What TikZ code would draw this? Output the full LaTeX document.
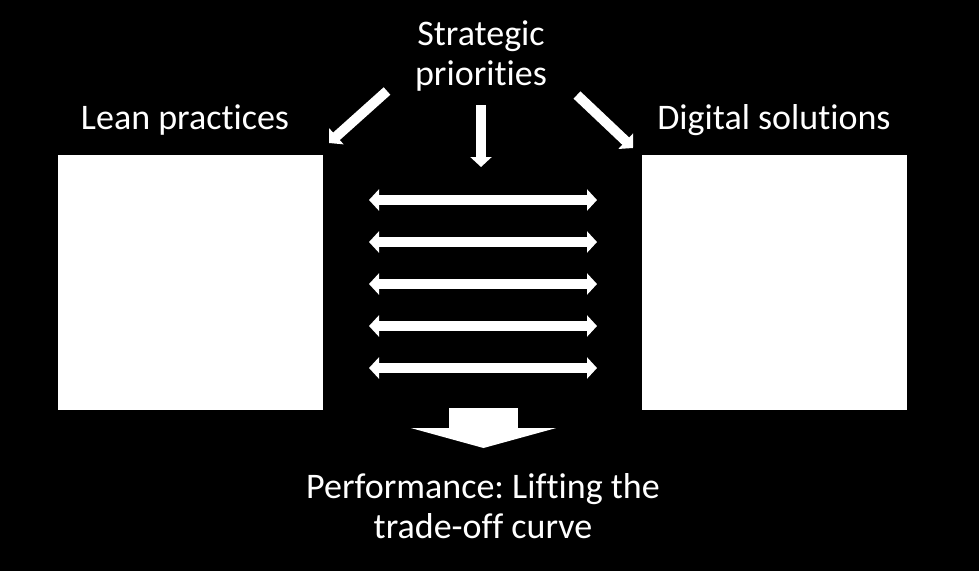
\documentclass[tikz,border=0pt]{standalone}
\usepackage{fontspec}
\setmainfont[RawFeature={-liga;-clig}]{Carlito}
\usetikzlibrary{arrows.meta}
\frenchspacing
\begin{document}
\begin{tikzpicture}[x=1pt,y=-1pt,
  box/.style={fill=white,draw=none,minimum width=265pt,minimum height=255pt,inner sep=0pt},
  lbl/.style={text=white,font=\fontsize{36}{40}\selectfont,align=center,inner sep=0pt},
  blk/.style={draw=white,line width=10pt,-{Triangle[width=21pt,length=10pt]}},
  dbl/.style={draw=white,line width=10pt,{Triangle[width=21pt,length=10pt]}-{Triangle[width=21pt,length=10pt]}},
  big/.style={draw=white,line width=69pt,-{Triangle[width=145pt,length=20pt]}}]
\useasboundingbox (0,0) rectangle (979,571);
\fill[black] (0,0) rectangle (979,571);
\node[box] (lean) at (190.5,282.5) {};
\node[box] (digital) at (774.5,282.5) {};
\node[lbl] (strat) at (481,56) {Strategic\\priorities};
\node[lbl] (leanlbl) at (185,120) {Lean practices};
\node[lbl] (diglbl) at (774,120) {Digital solutions};
\node[lbl] (perf) at (483,506) {Performance: Lifting the\\trade-off curve};
\coordinate (d1s) at (387,91); \coordinate (d1e) at (329,143);
\coordinate (d2s) at (577,95); \coordinate (d2e) at (633,148);
\coordinate (cs) at (481,105); \coordinate (ce) at (481,167);
\draw[blk] (d1s) -- (d1e);
\draw[blk] (d2s) -- (d2e);
\draw[blk] (cs) -- (ce);
\foreach \i/\y in {1/200,2/242,3/284,4/326,5/368}{
  \coordinate (l\i) at (369,\y); \coordinate (r\i) at (597,\y);
  \draw[dbl] (l\i) -- (r\i);
}
\coordinate (bs) at (483.5,408); \coordinate (be) at (483.5,448);
\draw[big] (bs) -- (be);
\end{tikzpicture}
\end{document}
